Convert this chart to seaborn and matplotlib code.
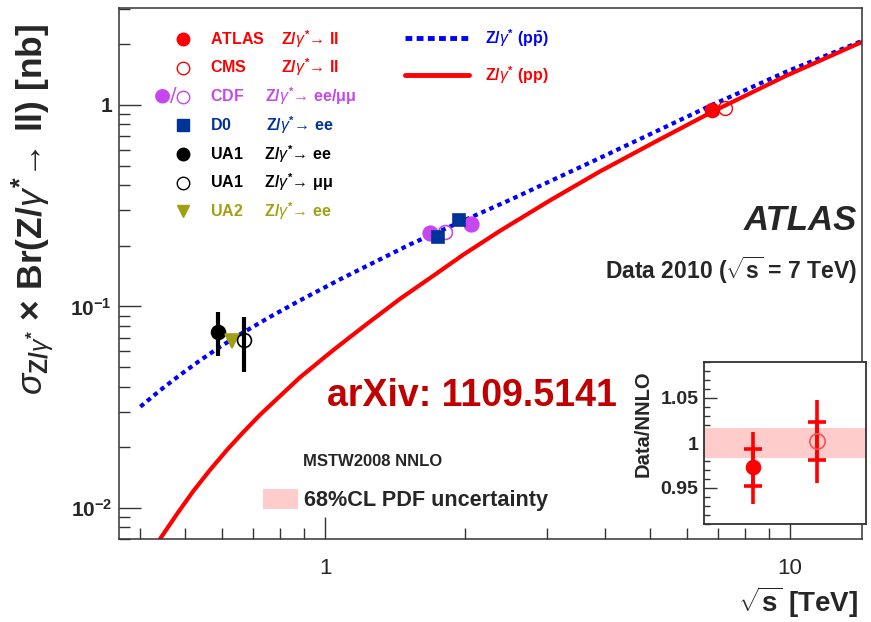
import numpy as np
import pandas as pd
import matplotlib
matplotlib.use("Agg")
import matplotlib.pyplot as plt
import seaborn as sns
from matplotlib.lines import Line2D
from matplotlib.patches import Patch
from matplotlib.ticker import FixedLocator, NullFormatter, MultipleLocator

# ---------------- data ----------------
# theory curves (MSTW2008 NNLO)
ppbar_sqrt_s = [0.4002, 0.4416, 0.4878, 0.5385, 0.5945, 0.6564, 0.7615, 0.8835, 1.077, 1.523,
                2.500, 3.904, 6.797, 9.851, 14.28]
ppbar_sigma = [0.03177, 0.03836, 0.04577, 0.05402, 0.06304, 0.07272, 0.08880, 0.1072, 0.1363, 0.2032,
               0.3379, 0.5460, 1.000, 1.466, 2.077]
pp_sqrt_s = [0.4416, 0.4805, 0.5202, 0.5659, 0.6155, 0.6664, 0.7247, 0.7884, 0.8835, 1.040,
             1.231, 1.450, 1.708, 1.981, 2.378, 3.048, 3.904, 5.150, 6.797, 9.851, 14.28]
pp_sigma = [0.00703, 0.00936, 0.01210, 0.01547, 0.01944, 0.02374, 0.02900, 0.03481, 0.04449, 0.06056,
            0.08196, 0.1091, 0.1418, 0.1803, 0.2371, 0.3360, 0.4679, 0.6592, 0.9232, 1.401, 2.053]

# measurements
atlas_x, atlas_y = [6.8], [0.94]
cms_x, cms_y = [7.25], [0.966]
cdf_ee_x, cdf_ee_y = [1.68, 2.06], [0.232, 0.257]
cdf_mm_x, cdf_mm_y = [1.81], [0.235]
d0_x, d0_y = [1.75, 1.94], [0.222, 0.268]
ua1_ee_x, ua1_ee_y, ua1_ee_lo, ua1_ee_hi = [0.589], [0.0743], [0.0565], [0.0934]
ua2_x, ua2_y = [0.631], [0.0671]
ua1_mm_x, ua1_mm_y, ua1_mm_lo, ua1_mm_hi = [0.67], [0.068], [0.0471], [0.0882]

# inset: Data / NNLO
ratio_pos = [0.3, 0.7]
ratio_val = [0.973, 1.0026]
ratio_stat_lo = [0.9525, 0.9807]
ratio_stat_hi = [0.9933, 1.0233]
ratio_tot_lo = [0.9326, 0.9556]
ratio_tot_hi = [1.012, 1.048]
pdf_band_lo, pdf_band_hi = 0.983, 1.017

x_major = [1, 10]
x_major_labels = ["1", "10"]
y_major = [0.01, 0.1, 1]
y_major_labels = [r"$10^{-2}$", r"$10^{-1}$", "1"]
ratio_ticks = [0.95, 1.0, 1.05]
ratio_tick_labels = ["0.95", "1", "1.05"]

legend_labels = [
    "ATLAS    Z/$\\gamma^{*}$→ ll",
    "CMS        Z/$\\gamma^{*}$→ ll",
    "CDF     Z/$\\gamma^{*}$→ ee/μμ",
    "D0        Z/$\\gamma^{*}$→ ee",
    "UA1     Z/$\\gamma^{*}$→ ee",
    "UA1     Z/$\\gamma^{*}$→ μμ",
    "UA2     Z/$\\gamma^{*}$→ ee",
]

# ---------------- style ----------------
RED = "#ff0000"
MAG = "#c846f0"
NAVY = "#003399"
OLIVE = "#a0a014"
BLUE = "#0000ff"

sns.set_theme(style="white")
plt.rcParams["font.family"] = ["Liberation Sans", "DejaVu Sans"]
plt.rcParams["mathtext.fontset"] = "custom"
plt.rcParams["mathtext.rm"] = "Liberation Sans:bold"
plt.rcParams["mathtext.bf"] = "Liberation Sans:bold"
plt.rcParams["mathtext.it"] = "Liberation Sans:italic"
plt.rcParams["mathtext.sf"] = "Liberation Sans:bold"

fig = plt.figure(figsize=(8.71, 6.22), dpi=100)
fig.patch.set_facecolor("white")
ax = fig.add_axes([119 / 871, 1 - 539 / 622, (862 - 119) / 871, (539 - 8) / 622])
ax.set_facecolor("white")

# curves
sns.lineplot(x=ppbar_sqrt_s, y=ppbar_sigma, ax=ax, color=BLUE, lw=3.0,
             linestyle=(0, (1.1, 1.0)), sort=False, zorder=2)
sns.lineplot(x=pp_sqrt_s, y=pp_sigma, ax=ax, color=RED, lw=3.0, sort=False, zorder=2)

# error bars for UA1
ax.errorbar(ua1_ee_x, ua1_ee_y,
            yerr=[np.array(ua1_ee_y) - np.array(ua1_ee_lo), np.array(ua1_ee_hi) - np.array(ua1_ee_y)],
            fmt="none", ecolor="black", elinewidth=3, capsize=0, zorder=3)
ax.errorbar(ua1_mm_x, ua1_mm_y,
            yerr=[np.array(ua1_mm_y) - np.array(ua1_mm_lo), np.array(ua1_mm_hi) - np.array(ua1_mm_y)],
            fmt="none", ecolor="black", elinewidth=3, capsize=0, zorder=3)


def pts(x, y, marker, color, ms, filled=True, mew=1.2, z=4):
    sns.lineplot(x=x, y=y, ax=ax, marker=marker, linestyle="", ms=ms,
                 color=color, mfc=color if filled else "none", mec=color, mew=mew, zorder=z)


pts(ua1_ee_x, ua1_ee_y, "o", "black", 10)
pts(ua2_x, ua2_y, "v", OLIVE, 10)
pts(ua1_mm_x, ua1_mm_y, "o", "black", 10, filled=False)
pts(cdf_ee_x, cdf_ee_y, "o", MAG, 10.5)
pts(cdf_mm_x, cdf_mm_y, "o", MAG, 10, filled=False)
pts(d0_x, d0_y, "s", NAVY, 9, z=5)
pts(atlas_x, atlas_y, "o", RED, 10, z=5)
pts(cms_x, cms_y, "o", RED, 10, filled=False, mew=1.0, z=5)

ax.set_xscale("log")
ax.set_yscale("log")
ax.set_xlim(0.36, 14.3)
ax.set_ylim(0.007, 3.03)

ax.xaxis.set_major_locator(FixedLocator(x_major))
ax.set_xticklabels(x_major_labels, fontsize=16)
ax.xaxis.set_minor_locator(FixedLocator([0.4, 0.5, 0.6, 0.7, 0.8, 0.9, 2, 3, 4, 5, 6, 7, 8, 9]))
ax.xaxis.set_minor_formatter(NullFormatter())
ax.yaxis.set_major_locator(FixedLocator(y_major))
ax.set_yticklabels(y_major_labels, fontsize=15, fontweight="bold")
ax.yaxis.set_minor_locator(FixedLocator([0.007, 0.008, 0.009, 0.02, 0.03, 0.04, 0.05, 0.06, 0.07, 0.08,
                                         0.09, 0.2, 0.3, 0.4, 0.5, 0.6, 0.7, 0.8, 0.9, 2, 3]))
ax.yaxis.set_minor_formatter(NullFormatter())
ax.tick_params(which="major", direction="in", length=16, width=1.0, color="#333333",
               top=False, right=False, left=True, bottom=True)
ax.tick_params(which="minor", direction="in", length=8, width=1.0, color="#333333",
               top=False, right=False, left=True, bottom=True)
ax.tick_params(axis="x", which="major", pad=14)
ax.tick_params(axis="y", which="major", pad=5)
for s in ax.spines.values():
    s.set_linewidth(1.1)
    s.set_color("#333333")
    s.set_visible(True)

ax.set_xlabel(r"$\sqrt{\mathrm{s}}$ [TeV]", fontsize=20, fontweight="bold", loc="right")
ax.xaxis.set_label_coords(0.995, -0.085)
ax.set_ylabel(r"$\sigma_{\mathrm{Z/}\gamma^{*}}$ $\times$ Br(Z/$\gamma^{*}$→ ll) [nb]",
              fontsize=25.5, fontweight="bold")
ax.yaxis.set_label_coords(-0.083, 0.62)

# legend of measurements
mk = dict(linestyle="", ms=9)
handles = [
    Line2D([], [], marker="o", color=RED, mfc=RED, mec=RED, **mk),
    Line2D([], [], marker="o", color=RED, mfc="none", mec=RED, mew=1.0, **mk),
    Line2D([], [], marker="o", color=MAG, mfc="none", mec=MAG, mew=1.0, **mk),
    Line2D([], [], marker="s", color=NAVY, mfc=NAVY, mec=NAVY, ms=8.5, linestyle=""),
    Line2D([], [], marker="o", color="black", mfc="black", mec="black", **mk),
    Line2D([], [], marker="o", color="black", mfc="none", mec="black", mew=1.0, **mk),
    Line2D([], [], marker="v", color=OLIVE, mfc=OLIVE, mec=OLIVE, **mk),
]
colors = [RED, RED, MAG, NAVY, "black", "black", OLIVE]
leg1 = ax.legend(handles, legend_labels, loc="upper left", bbox_to_anchor=(175 / 871, 1 - 28 / 622),
                 bbox_transform=fig.transFigure, frameon=False,
                 prop={"weight": "bold", "size": 11.5}, handlelength=1.0, handletextpad=1.2,
                 labelspacing=0.44, borderpad=0, borderaxespad=0, labelcolor=colors)
ax.add_artist(leg1)
fig.text(177 / 871, 1 - 95 / 622, "●/", color=MAG, fontsize=14, ha="right", va="center",
         family=["DejaVu Sans"])

# legend of theory curves
line_handles = [
    Line2D([], [], color=BLUE, lw=3.5, linestyle=(0, (1.4, 0.9))),
    Line2D([], [], color=RED, lw=3.5),
]
line_labels = [r"Z/$\gamma^{*}$ (p$\bar{\mathrm{p}}$)", r"Z/$\gamma^{*}$ (pp)"]
leg2 = ax.legend(line_handles, line_labels, loc="upper left", bbox_to_anchor=(405 / 871, 1 - 27 / 622),
                 bbox_transform=fig.transFigure, frameon=False,
                 prop={"weight": "bold", "size": 11.5}, handlelength=4.0, handletextpad=1.0,
                 labelspacing=0.95, borderpad=0, borderaxespad=0, labelcolor=[BLUE, RED])
ax.add_artist(leg2)

# PDF uncertainty legend
leg3 = ax.legend([Patch(facecolor="#ffcccc", edgecolor="none")], ["68%CL PDF uncertainty"],
                 loc="center left", bbox_to_anchor=(263 / 871, 1 - 500 / 622),
                 bbox_transform=fig.transFigure, frameon=False,
                 prop={"weight": "bold", "size": 15.6}, handlelength=1.6, handleheight=1.1,
                 handletextpad=0.3, borderpad=0, borderaxespad=0)

# texts
fig.text(857 / 871, 1 - 220 / 622, "ATLAS", ha="right", va="center", fontsize=25,
         fontweight="bold", fontstyle="italic")
fig.text(857 / 871, 1 - 270 / 622, r"Data 2010 ($\sqrt{\mathrm{s}}$ = 7 TeV)", ha="right", va="center",
         fontsize=16.5, fontweight="bold")
fig.text(327 / 871, 1 - 396 / 622, "arXiv: 1109.5141", ha="left", va="center", fontsize=27,
         fontweight="bold", color="#c00000")
fig.text(303 / 871, 1 - 461 / 622, "MSTW2008 NNLO", ha="left", va="center", fontsize=12,
         fontweight="bold")

# ---------------- inset ----------------
axin = fig.add_axes([704 / 871, 1 - 524 / 622, (866 - 704) / 871, (524 - 362) / 622])
axin.set_facecolor("white")
axin.axhspan(pdf_band_lo, pdf_band_hi, color="#ffcccc", lw=0, zorder=1)
val = np.array(ratio_val)
axin.errorbar(ratio_pos, ratio_val,
              yerr=[val - np.array(ratio_tot_lo), np.array(ratio_tot_hi) - val],
              fmt="none", ecolor=RED, elinewidth=2.6, capsize=0, zorder=3)
axin.errorbar(ratio_pos, ratio_val,
              yerr=[val - np.array(ratio_stat_lo), np.array(ratio_stat_hi) - val],
              fmt="none", ecolor=RED, elinewidth=2.6, capsize=6.5, capthick=2.6, zorder=3)
sns.lineplot(x=ratio_pos[:1], y=ratio_val[:1], ax=axin, marker="o", linestyle="", ms=10.5,
             color=RED, mfc=RED, mec=RED, zorder=4)
sns.lineplot(x=ratio_pos[1:], y=ratio_val[1:], ax=axin, marker="o", linestyle="", ms=11,
             color=RED, mfc="none", mec="#ff5050", mew=1.2, zorder=4)
axin.set_xlim(0, 1)
axin.set_ylim(0.91, 1.09)
axin.set_xticks([])
axin.yaxis.set_major_locator(FixedLocator(ratio_ticks))
axin.set_yticklabels(ratio_tick_labels, fontsize=14, fontweight="bold")
axin.yaxis.set_minor_locator(MultipleLocator(0.01))
axin.tick_params(axis="y", which="major", direction="in", length=9, width=1.0, color="#333333",
                 left=True, right=False, pad=4)
axin.tick_params(axis="y", which="minor", direction="in", length=4.5, width=1.0, color="#333333",
                 left=True, right=False)
axin.set_ylabel("Data/NNLO", fontsize=14.5, fontweight="bold")
axin.yaxis.set_label_coords(-0.315, 0.617)
for s in axin.spines.values():
    s.set_linewidth(1.3)
    s.set_color("#333333")
    s.set_visible(True)

fig.savefig("out.png", dpi=100, facecolor="white")
